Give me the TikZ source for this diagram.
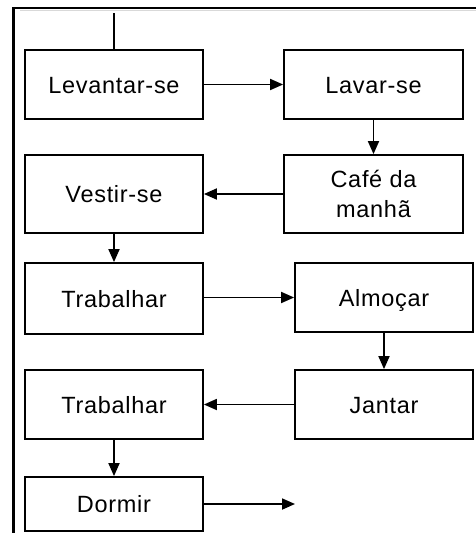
\documentclass[tikz,border=0pt]{standalone}
\usepackage{fontspec}
\setmainfont{Liberation Sans}[LetterSpace=3]
\usetikzlibrary{arrows.meta}
\begin{document}
\begin{tikzpicture}[x=1pt,y=-1pt,
  stepbox/.style={draw=black, line width=1.8pt, inner sep=0pt, align=center,
    font=\fontsize{23.5}{30}\selectfont, minimum width=178pt, minimum height=69pt,
    text height=17pt, text depth=0pt},
  twoline/.style={text height=, text depth=},
  flow/.style={line width=1.8pt, -{Triangle[length=13pt,width=11pt]}},
  frameline/.style={line width=2.6pt, black}]
  \useasboundingbox (0,0) rectangle (476,533);
  \fill[white] (0,0) rectangle (476,533);
  % frame
  \draw[gray!30, line width=1pt] (20,10.5) -- (476,10.5);
  \draw[frameline] (13.5,533) -- (13.5,8) -- (476,8);
  % boxes
  \node[stepbox] (lev)   at (114,84.5)  {Levantar-se};
  \node[stepbox, minimum width=179pt] (lav) at (373.5,84.5) {Lavar-se};
  \node[stepbox, twoline, minimum width=179pt, minimum height=78pt] (cafe) at (373.5,194) {Café da\\manhã};
  \node[stepbox, minimum height=78pt] (vest) at (114,194) {Vestir-se};
  \node[stepbox, minimum height=71pt] (trab1) at (114,298.5) {Trabalhar};
  \node[stepbox] (alm)   at (384,297.5) {Almoçar};
  \node[stepbox] (jan)   at (384,404.5) {Jantar};
  \node[stepbox] (trab2) at (114,404.5) {Trabalhar};
  \node[stepbox, minimum height=54pt] (dorm) at (114,504) {Dormir};
  % connectors
  \coordinate (start) at (114,13);
  \coordinate (fim) at (295,504);
  \draw[line width=1.8pt] (start) -- (lev.north);
  \draw[flow] (lev) -- (lav);
  \draw[flow] (lav) -- (cafe);
  \draw[flow] (cafe) -- (vest);
  \draw[flow] (vest) -- (trab1);
  \draw[flow] (trab1.east |- alm.west) -- (alm.west);
  \draw[flow] (alm) -- (jan);
  \draw[flow] (jan) -- (trab2);
  \draw[flow] (trab2) -- (dorm);
  \draw[flow] (dorm) -- (fim);
\end{tikzpicture}
\end{document}
